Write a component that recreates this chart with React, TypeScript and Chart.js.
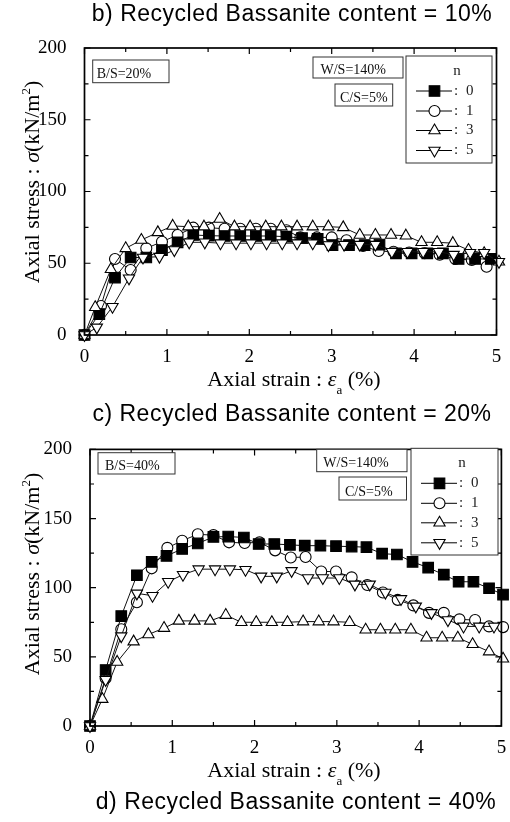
import React, { useEffect, useRef } from 'react';
import { Chart, registerables } from 'chart.js';

Chart.register(...registerables);

// ---------- DATA: panel 1 (B/S = 20%) ----------
const p1N0X = [0, 0.18, 0.37, 0.56, 0.75, 0.94, 1.13, 1.32, 1.51, 1.70, 1.89, 2.08, 2.26, 2.45, 2.64, 2.83, 3.01, 3.21, 3.40, 3.58, 3.78, 3.97, 4.16, 4.35, 4.54, 4.74, 4.93];
const p1N0Y = [0, 14.6, 40, 54, 54, 59.2, 64.6, 69.7, 69.2, 69, 69, 69, 69, 68.5, 67.5, 67, 62.7, 62.7, 62.7, 63, 56.9, 56.9, 56.9, 56.9, 53, 53, 53];
const p1N1X = [0, 0.20, 0.37, 0.56, 0.75, 0.94, 1.13, 1.32, 1.51, 1.70, 1.89, 2.08, 2.26, 2.45, 2.62, 2.82, 3.00, 3.18, 3.38, 3.57, 3.75, 3.94, 4.13, 4.31, 4.50, 4.70, 4.88];
const p1N1Y = [0, 20.2, 53, 45.3, 60.4, 65, 69.7, 74.8, 74.8, 74, 74, 74, 74, 73, 68, 68, 68, 66, 62, 58.5, 58, 57.5, 57, 56, 53, 52.3, 47.6];
const p1N3X = [0, 0.13, 0.32, 0.50, 0.69, 0.89, 1.07, 1.26, 1.45, 1.64, 1.82, 2.01, 2.20, 2.39, 2.58, 2.77, 2.96, 3.14, 3.34, 3.53, 3.72, 3.90, 4.09, 4.28, 4.47, 4.66, 4.85, 5.03];
const p1N3Y = [0, 19.3, 45.8, 60.4, 66.2, 71.5, 76, 75.5, 75.5, 80.8, 75.5, 75.5, 75.5, 75.5, 75.5, 75.5, 75.5, 75, 69.7, 69.7, 69.7, 69.2, 64.6, 64.6, 64, 59.2, 56.9, 51];
const p1N5X = [0, 0.15, 0.34, 0.54, 0.71, 0.91, 1.09, 1.27, 1.46, 1.65, 1.84, 2.02, 2.21, 2.40, 2.58, 2.77, 2.96, 3.15, 3.34, 3.53, 3.73, 3.92, 4.11, 4.30, 4.48, 4.68, 4.85, 5.03];
const p1N5Y = [0, 5.3, 19.7, 39.5, 54, 54.6, 59.2, 64.6, 64.6, 64, 64, 64, 64, 64, 64, 64, 62.7, 63, 63, 63, 58, 58, 58, 58, 56, 57.3, 57.3, 51];

// ---------- DATA: panel 2 (B/S = 40%) ----------
const p2N0X = [0, 0.19, 0.38, 0.57, 0.75, 0.93, 1.12, 1.31, 1.50, 1.68, 1.87, 2.05, 2.24, 2.43, 2.61, 2.80, 2.99, 3.18, 3.36, 3.55, 3.73, 3.92, 4.11, 4.30, 4.48, 4.66, 4.85, 5.02];
const p2N0Y = [0, 40.5, 79.5, 109, 118.7, 123, 128, 132, 136.7, 137, 136.3, 131.6, 131.6, 131, 130.4, 130.4, 130, 129.7, 129.3, 124.6, 124, 118.7, 114.5, 109.4, 104.3, 104.3, 99.6, 95];
const p2N1X = [0, 0.19, 0.38, 0.57, 0.75, 0.94, 1.12, 1.31, 1.50, 1.69, 1.88, 2.06, 2.25, 2.44, 2.62, 2.81, 2.99, 3.18, 3.37, 3.56, 3.74, 3.93, 4.12, 4.30, 4.49, 4.68, 4.85, 5.02];
const p2N1Y = [0, 34.6, 70, 89.5, 114, 128.8, 134, 138.6, 138, 132.8, 132.3, 132.8, 127, 121.8, 122.2, 111.7, 111.7, 107.5, 101.9, 96.5, 91.2, 87.2, 81.8, 81.8, 77.1, 76.6, 72, 71.5];
const p2N3X = [0, 0.15, 0.33, 0.53, 0.71, 0.90, 1.08, 1.27, 1.46, 1.65, 1.84, 2.02, 2.21, 2.40, 2.59, 2.78, 2.96, 3.155, 3.35, 3.53, 3.71, 3.90, 4.09, 4.28, 4.47, 4.65, 4.85, 5.02];
const p2N3Y = [0, 19.4, 46.3, 61, 66.2, 70.8, 76, 76, 76, 80.2, 75, 75, 75, 75, 75.5, 75.5, 75.5, 75, 69.6, 69.6, 69.6, 69.6, 63.8, 63.8, 63.8, 59.1, 53.8, 48.6];
const p2N5X = [0, 0.19, 0.38, 0.57, 0.76, 0.95, 1.13, 1.32, 1.52, 1.70, 1.89, 2.08, 2.27, 2.45, 2.65, 2.83, 3.03, 3.22, 3.40, 3.59, 3.78, 3.96, 4.15, 4.35, 4.54, 4.73, 4.91];
const p2N5Y = [0, 33.4, 65, 95.9, 94.2, 104.3, 109.4, 113.4, 113.4, 113.4, 113, 108.2, 108.2, 112.2, 107, 107, 107, 102.4, 102.4, 96.5, 91.9, 86.5, 81.8, 76.6, 72, 72, 72];

// ---------- AXES / LABELS ----------
const seriesNames = ['0', '1', '3', '5'];
const xTickValues = [0, 1, 2, 3, 4, 5];
const xTickLabels = ['0', '1', '2', '3', '4', '5'];
const yTickValues = [0, 50, 100, 150, 200];
const yTickLabels = ['0', '50', '100', '150', '200'];
const xMinorStep = 0.5;
const yMinorStep = 25;
const titleTexts = [
  'b) Recycled Bassanite content = 10%',
  'c) Recycled Bassanite content = 20%',
  'd) Recycled Bassanite content = 40%',
];
const p1Notes = ['B/S=20%', 'W/S=140%', 'C/S=5%'];
const p2Notes = ['B/S=40%', 'W/S=140%', 'C/S=5%'];

const SERIF = '"Liberation Serif", "Times New Roman", serif';
const SANS = '"Liberation Sans", Arial, sans-serif';

const seriesStyles = [
  { pointStyle: 'rect', radius: 7.5, fill: '#000', rotation: 0 },
  { pointStyle: 'circle', radius: 5.5, fill: '#fff', rotation: 0 },
  { pointStyle: 'triangle', radius: 6.5, fill: '#fff', rotation: 0 },
  { pointStyle: 'triangle', radius: 6.5, fill: '#fff', rotation: 180 },
];
const drawOrder = [2, 3, 1, 0];

type Seg = { t: string; font: string; dy?: number };

function drawRich(ctx: CanvasRenderingContext2D, segs: Seg[], x: number, y: number, rotate: boolean) {
  ctx.save();
  ctx.translate(x, y);
  if (rotate) ctx.rotate(-Math.PI / 2);
  let total = 0;
  const widths = segs.map((s) => {
    ctx.font = s.font;
    const w = ctx.measureText(s.t).width;
    total += w;
    return w;
  });
  let cx = -total / 2;
  ctx.textBaseline = 'alphabetic';
  ctx.textAlign = 'left';
  ctx.fillStyle = '#000';
  segs.forEach((s, i) => {
    ctx.font = s.font;
    ctx.fillText(s.t, cx, s.dy || 0);
    cx += widths[i];
  });
  ctx.restore();
}

function drawMarker(ctx: CanvasRenderingContext2D, style: any, x: number, y: number) {
  const r = style.radius;
  ctx.beginPath();
  if (style.pointStyle === 'rect') {
    const s = Math.SQRT1_2 * r;
    ctx.rect(x - s, y - s, 2 * s, 2 * s);
  } else if (style.pointStyle === 'circle') {
    ctx.arc(x, y, r, 0, Math.PI * 2);
  } else {
    const rot = (style.rotation * Math.PI) / 180;
    for (let k = 0; k < 3; k++) {
      const a = rot + (k * 2 * Math.PI) / 3;
      const px = x + Math.sin(a) * r;
      const py = y - Math.cos(a) * r;
      if (k === 0) ctx.moveTo(px, py);
      else ctx.lineTo(px, py);
    }
    ctx.closePath();
  }
  ctx.fillStyle = style.fill;
  ctx.fill();
  ctx.lineWidth = 1.1;
  ctx.strokeStyle = '#000';
  ctx.stroke();
}

const decorPlugin = {
  id: 'decor',
  afterDraw(chart: any, _args: any, opts: any) {
    const ctx: CanvasRenderingContext2D = chart.ctx;
    const { left, right, top, bottom } = chart.chartArea;
    const xs = chart.scales.x;
    const ys = chart.scales.y;
    const oy = opts.offsetY;
    ctx.save();
    // frame
    ctx.strokeStyle = '#000';
    ctx.lineWidth = 1.7;
    ctx.strokeRect(left, top, right - left, bottom - top);
    // inward ticks on all four sides
    ctx.lineWidth = 1.2;
    ctx.beginPath();
    for (let v = xs.min; v <= xs.max + 1e-9; v += xMinorStep) {
      const px = xs.getPixelForValue(v);
      const major = Math.abs(v - Math.round(v)) < 1e-6;
      const len = major ? 6 : 4;
      ctx.moveTo(px, bottom);
      ctx.lineTo(px, bottom - len);
      ctx.moveTo(px, top);
      ctx.lineTo(px, top + len);
    }
    for (let v = ys.min; v <= ys.max + 1e-9; v += yMinorStep) {
      const py = ys.getPixelForValue(v);
      const major = Math.abs(v / 50 - Math.round(v / 50)) < 1e-6;
      const len = major ? 6 : 4;
      ctx.moveTo(left, py);
      ctx.lineTo(left + len, py);
      ctx.moveTo(right, py);
      ctx.lineTo(right - len, py);
    }
    ctx.stroke();

    // panel titles
    ctx.fillStyle = '#000';
    ctx.textAlign = 'center';
    ctx.textBaseline = 'alphabetic';
    ctx.font = `23px ${SANS}`;
    (ctx as any).letterSpacing = '0.5px';
    opts.titles.forEach((t: any) => ctx.fillText(t.text, t.x, t.y - oy));
    (ctx as any).letterSpacing = '0px';

    // axis titles
    drawRich(
      ctx,
      [
        { t: 'Axial strain : ', font: `22px ${SERIF}` },
        { t: 'ε', font: `italic 22px ${SERIF}` },
        { t: 'a', font: `13px ${SERIF}`, dy: 8 },
        { t: ' (%)', font: `22px ${SERIF}` },
      ],
      opts.xTitle.x,
      opts.xTitle.y - oy,
      false
    );
    drawRich(
      ctx,
      [
        { t: 'Axial stress : ', font: `22px ${SERIF}` },
        { t: 'σ', font: `italic 22px ${SERIF}` },
        { t: '(kN/m', font: `22px ${SERIF}` },
        { t: '2', font: `13px ${SERIF}`, dy: -9 },
        { t: ')', font: `22px ${SERIF}` },
      ],
      opts.yTitle.x,
      opts.yTitle.y - oy,
      true
    );

    // note boxes
    ctx.font = `14px ${SERIF}`;
    ctx.textAlign = 'left';
    opts.boxes.forEach((b: any) => {
      ctx.fillStyle = '#fff';
      ctx.fillRect(b.x, b.y - oy, b.w, b.h);
      ctx.strokeStyle = '#333';
      ctx.lineWidth = 1;
      ctx.strokeRect(b.x, b.y - oy, b.w, b.h);
      ctx.fillStyle = '#111';
      ctx.fillText(b.text, b.x + b.pad, b.y - oy + b.h - 4.5);
    });

    // legend
    const L = opts.legend;
    const lx = L.x;
    const ly = L.y - oy;
    ctx.fillStyle = '#fff';
    ctx.fillRect(lx, ly, L.w, L.h);
    ctx.strokeStyle = '#333';
    ctx.lineWidth = 1;
    ctx.strokeRect(lx, ly, L.w, L.h);
    ctx.fillStyle = '#222';
    ctx.font = `15px ${SERIF}`;
    ctx.textAlign = 'center';
    ctx.fillText('n', lx + 51, ly + 19);
    const rows = [35, 55, 74.5, 94.5];
    seriesNames.forEach((name, i) => {
      const ry = ly + rows[i];
      ctx.beginPath();
      ctx.strokeStyle = '#000';
      ctx.lineWidth = 1;
      ctx.moveTo(lx + 10, ry);
      ctx.lineTo(lx + 46, ry);
      ctx.stroke();
      drawMarker(ctx, seriesStyles[i], lx + 28.5, ry);
      ctx.fillStyle = '#222';
      ctx.font = `15px ${SERIF}`;
      ctx.textAlign = 'left';
      ctx.textBaseline = 'middle';
      ctx.fillText(':', lx + 48, ry);
      ctx.fillText(name, lx + 60, ry);
      ctx.textBaseline = 'alphabetic';
    });
    ctx.restore();
  },
};

function zip(xs: number[], ys: number[]) {
  return xs.map((x, i) => ({ x, y: ys[i] }));
}

function makeConfig(series: { x: number[]; y: number[] }[], area: any, decor: any): any {
  return {
    type: 'scatter',
    data: {
      datasets: series.map((s, i) => ({
        label: seriesNames[i],
        data: zip(s.x, s.y),
        showLine: true,
        borderColor: '#111',
        borderWidth: 1,
        pointStyle: seriesStyles[i].pointStyle,
        pointRadius: seriesStyles[i].radius,
        pointRotation: seriesStyles[i].rotation,
        pointBackgroundColor: seriesStyles[i].fill,
        pointBorderColor: '#000',
        pointBorderWidth: 1.1,
        order: drawOrder[i],
        clip: false,
      })),
    },
    options: {
      responsive: false,
      animation: false,
      events: [],
      layout: { padding: { top: area.top, right: area.right, left: 0, bottom: 0 } },
      scales: {
        x: {
          type: 'linear',
          min: 0,
          max: 5,
          afterBuildTicks: (s: any) => {
            s.ticks = xTickValues.map((v) => ({ value: v }));
          },
          ticks: {
            callback: (v: number) => xTickLabels[xTickValues.indexOf(v)],
            font: { family: SERIF, size: 19 },
            color: '#000',
            padding: 3,
            maxRotation: 0,
            autoSkip: false,
          },
          grid: { display: false },
          border: { display: false },
          afterFit: (s: any) => {
            s.height = area.xHeight;
          },
        },
        y: {
          type: 'linear',
          min: 0,
          max: 200,
          afterBuildTicks: (s: any) => {
            s.ticks = yTickValues.map((v) => ({ value: v }));
          },
          ticks: {
            callback: (v: number) => yTickLabels[yTickValues.indexOf(v)],
            font: { family: SERIF, size: 19 },
            color: '#000',
            padding: 10,
            autoSkip: false,
          },
          grid: { display: false },
          border: { display: false },
          afterFit: (s: any) => {
            s.width = area.left;
          },
        },
      },
      plugins: {
        legend: { display: false },
        tooltip: { enabled: false },
        decor,
      },
    },
    plugins: [decorPlugin],
  };
}

export default function App() {
  const r1 = useRef<HTMLCanvasElement>(null);
  const r2 = useRef<HTMLCanvasElement>(null);

  useEffect(() => {
    const cfg1 = makeConfig(
      [
        { x: p1N0X, y: p1N0Y },
        { x: p1N1X, y: p1N1Y },
        { x: p1N3X, y: p1N3Y },
        { x: p1N5X, y: p1N5Y },
      ],
      { top: 48, right: 13.5, left: 84.5, xHeight: 428 - 335 },
      {
        offsetY: 0,
        titles: [
          { text: titleTexts[0], x: 292, y: 21 },
          { text: titleTexts[1], x: 292, y: 421 },
        ],
        xTitle: { x: 294, y: 386 },
        yTitle: { x: 39, y: 182 },
        boxes: [
          { x: 92.7, y: 60, w: 76.3, h: 22.7, text: p1Notes[0], pad: 4 },
          { x: 313, y: 57, w: 90, h: 21, text: p1Notes[1], pad: 7.5 },
          { x: 335, y: 84, w: 57.7, h: 22, text: p1Notes[2], pad: 5 },
        ],
        legend: { x: 406, y: 56, w: 86, h: 107 },
      }
    );
    const cfg2 = makeConfig(
      [
        { x: p2N0X, y: p2N0Y },
        { x: p2N1X, y: p2N1Y },
        { x: p2N3X, y: p2N3Y },
        { x: p2N5X, y: p2N5Y },
      ],
      { top: 441 - 428, right: 8, left: 90, xHeight: 822 - 726 },
      {
        offsetY: 428,
        titles: [{ text: titleTexts[2], x: 296, y: 809 }],
        xTitle: { x: 294, y: 777 },
        yTitle: { x: 39, y: 574 },
        boxes: [
          { x: 98, y: 452.7, w: 77, h: 21.3, text: p2Notes[0], pad: 7 },
          { x: 316.7, y: 449.3, w: 90.3, h: 22.4, text: p2Notes[1], pad: 6.6 },
          { x: 339, y: 477, w: 67.5, h: 23, text: p2Notes[2], pad: 6 },
        ],
        legend: { x: 411, y: 448.3, w: 87, h: 106.7 },
      }
    );
    const c1 = new Chart(r1.current as HTMLCanvasElement, cfg1);
    const c2 = new Chart(r2.current as HTMLCanvasElement, cfg2);
    return () => {
      c1.destroy();
      c2.destroy();
    };
  }, []);

  return (
    <div style={{ position: 'absolute', left: 0, top: 0, width: 510, height: 822, background: '#fff' }}>
      <canvas ref={r1} width={510} height={428} style={{ position: 'absolute', left: 0, top: 0 }} />
      <canvas ref={r2} width={510} height={394} style={{ position: 'absolute', left: 0, top: 428 }} />
    </div>
  );
}
